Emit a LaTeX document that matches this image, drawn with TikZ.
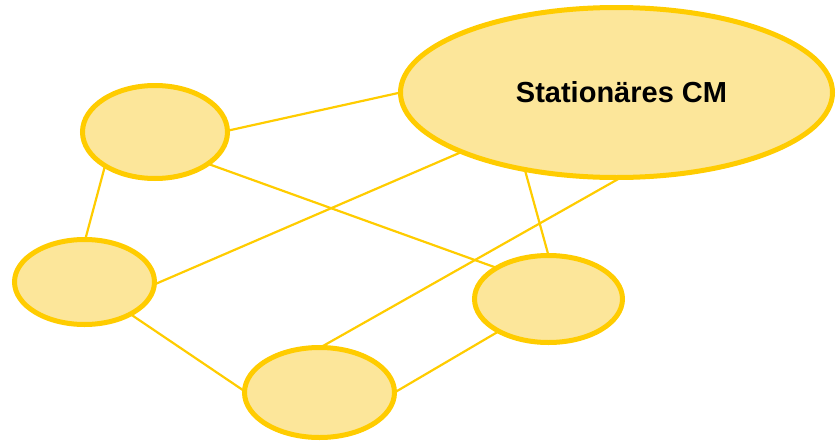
\documentclass[tikz,border=0pt]{standalone}
\usepackage{fontspec}
\setmainfont{Liberation Sans}
\usetikzlibrary{shapes.geometric,backgrounds}
\definecolor{gold}{HTML}{FFCC00}
\definecolor{paleyellow}{HTML}{FCE69A}
\tikzset{
  blob/.style={ellipse, draw=gold, line width=5pt, fill=paleyellow, inner sep=0pt, outer sep=0pt},
  link/.style={draw=gold, line width=2.2pt}
}
\begin{document}
\begin{tikzpicture}[x=1pt,y=-1pt]
\useasboundingbox (0,0) rectangle (836,442);
\node[blob, minimum width=432pt, minimum height=170pt, font=\bfseries\fontsize{29}{32}\selectfont] (big) at (616.5,92.5) {\hspace*{10pt}Stationäres CM};
\node[blob, minimum width=145pt, minimum height=93pt] (e1) at (155,132) {};
\node[blob, minimum width=140pt, minimum height=85pt] (e2) at (84.5,282) {};
\node[blob, minimum width=150pt, minimum height=90pt] (e3) at (319.5,392.5) {};
\node[blob, minimum width=148pt, minimum height=87pt] (e4) at (548.5,299) {};
\begin{scope}[on background layer]
\draw[link] (e1.1.5) -- (big.180);
\draw[link] (e1.-31.9) -- (e4.149.1);
\draw[link] (e1.214.7) -- (e2.89.4);
\draw[link] (e2.-2.4) -- (big.201.8);
\draw[link] (big.220.9) -- (e4.90);
\draw[link] (big.-87.7) -- (e3.89.4);
\draw[link] (e2.-35.9) -- (e3.179.6);
\draw[link] (e3.0.4) -- (e4.213);
\end{scope}
\end{tikzpicture}
\end{document}
